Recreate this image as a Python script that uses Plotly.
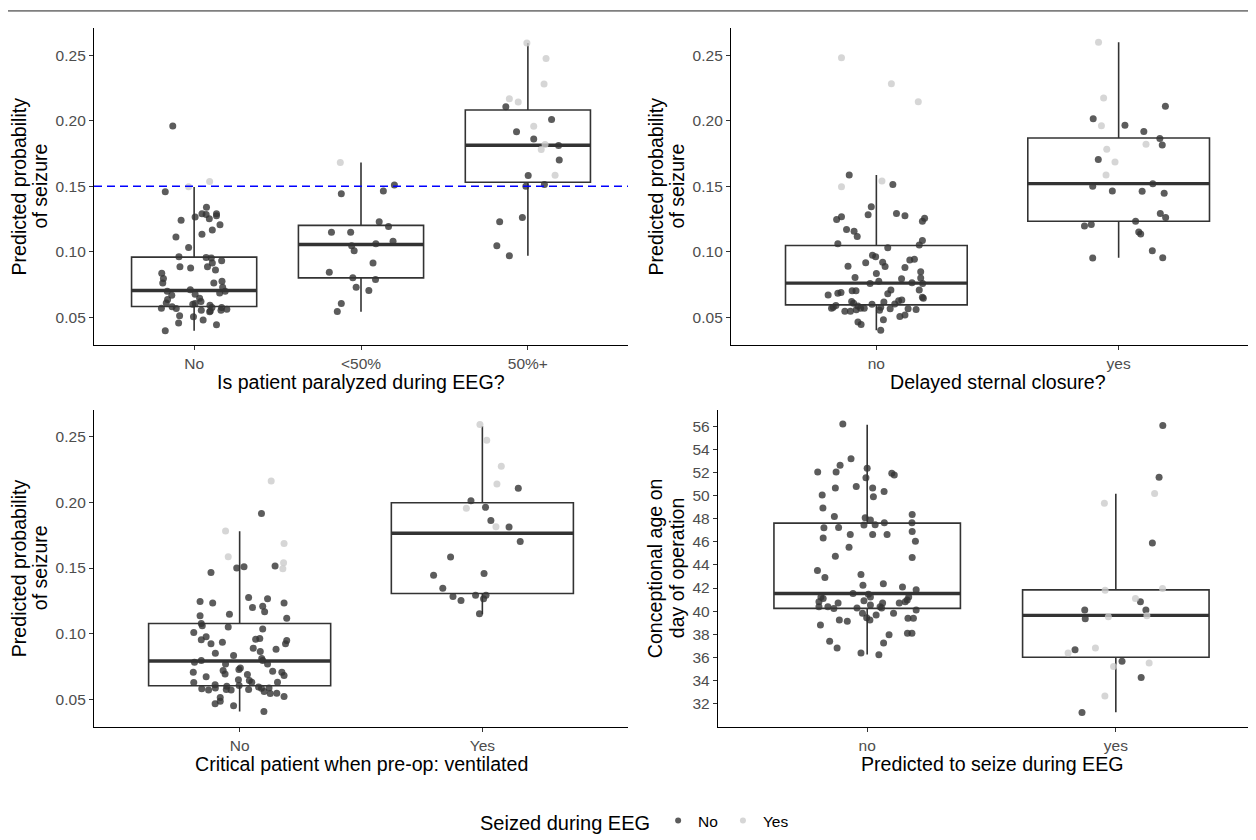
import plotly.graph_objects as go

# The page body adds an 8px margin, so the figure is drawn 8px smaller and
# every reference pixel position is shifted by that offset.
OFF = 8
W, H = 1256 - OFF, 840 - OFF
FONT = "Liberation Sans, Arial, sans-serif"
DARK = "rgba(51,51,51,0.8)"
LIGHT = "rgba(204,204,204,0.8)"
BOX = "#333333"

# ---------------- data ----------------
prob_ticks = [0.05, 0.10, 0.15, 0.20, 0.25]
prob_ticktext = ["0.05", "0.10", "0.15", "0.20", "0.25"]
age_ticks = [32, 34, 36, 38, 40, 42, 44, 46, 48, 50, 52, 54, 56]
age_ticktext = [str(v) for v in age_ticks]
threshold = 0.15

legend_levels = ["No", "Yes"]

# Panel 1: Is patient paralyzed during EEG?
p1_categories = ["No", "<50%", "50%+"]
p1_q1 = [0.0583, 0.0802, 0.1531]
p1_median = [0.0706, 0.1056, 0.1813]
p1_q3 = [0.0960, 0.1202, 0.2082]
p1_lower = [0.0399, 0.0543, 0.0970]
p1_upper = [0.1494, 0.1682, 0.2593]
p1_dark_values = [
    [0.196, 0.1458, 0.134, 0.129, 0.1285, 0.129, 0.1265, 0.1252, 0.1275, 0.1242,
     0.1207, 0.1167, 0.1134, 0.1114, 0.1033, 0.0963, 0.0958, 0.0953, 0.0933, 0.0915,
     0.0887, 0.0877, 0.0887, 0.0862, 0.0837, 0.0797, 0.0762, 0.0762, 0.0777, 0.0731,
     0.0699, 0.0686, 0.0699, 0.0711, 0.0669, 0.0676, 0.0636, 0.0646, 0.0621, 0.0611,
     0.0606, 0.0601, 0.0593, 0.0576, 0.0581, 0.0570, 0.0568, 0.0555, 0.0550, 0.0543,
     0.0555, 0.0563, 0.0576, 0.0513, 0.0505, 0.0480, 0.0457, 0.0445, 0.0399],
    [0.1509, 0.1464, 0.1443, 0.123, 0.1194, 0.1149, 0.1149, 0.1061, 0.1081, 0.1046,
     0.1008, 0.0915, 0.0845, 0.0802, 0.0789, 0.0731, 0.0706, 0.0606, 0.0545],
    [0.2107, 0.2009, 0.1916, 0.1861, 0.1811, 0.1700, 0.1582, 0.1514, 0.1501, 0.1230,
     0.1262, 0.1046, 0.0970],
]
p1_dark_jitter = [
    [-0.128, -0.173, 0.074, 0.047, 0.072, 0.134, 0.006, 0.091, 0.134, -0.078,
     0.155, 0.109, 0.047, -0.109, -0.033, -0.091, 0.072, 0.103, 0.165, 0.109,
     -0.085, -0.021, 0.080, 0.128, -0.194, -0.184, -0.188, 0.118, 0.167, 0.171,
     0.186, 0.153, -0.161, -0.023, -0.134, 0.006, -0.159, 0.033, 0.041, -0.167,
     0.006, -0.008, 0.095, 0.107, -0.132, -0.196, -0.107, 0.043, 0.097, 0.093,
     0.161, 0.196, 0.165, -0.087, -0.004, 0.054, -0.093, 0.134, -0.173],
    [0.200, 0.134, -0.118, 0.109, 0.165, -0.177, -0.062, 0.089, 0.192, -0.056,
     -0.041, 0.072, -0.190, -0.049, 0.087, -0.029, 0.047, -0.118, -0.142],
    [-0.132, 0.142, -0.068, 0.035, 0.184, 0.188, 0.002, 0.099, -0.012, -0.169,
     -0.033, -0.186, -0.111],
]
p1_light_values = [
    [0.1536, 0.1496],
    [0.1682],
    [0.2593, 0.2475, 0.2279, 0.2168, 0.2143, 0.1957, 0.1818, 0.1780, 0.1584],
]
p1_light_jitter = [
    [0.093, -0.033],
    [-0.124],
    [-0.006, 0.109, 0.097, -0.111, -0.058, 0.035, 0.103, 0.080, 0.163],
]

# Panel 2: Delayed sternal closure?
p2_categories = ["no", "yes"]
p2_q1 = [0.0596, 0.1233]
p2_median = [0.0762, 0.1520]
p2_q3 = [0.1049, 0.1868]
p2_lower = [0.0402, 0.0956]
p2_upper = [0.1586, 0.2598]
p2_dark_values = [
    [0.1586, 0.1513, 0.1344, 0.1283, 0.1293, 0.1276, 0.1268, 0.1246, 0.1256, 0.1233,
     0.1170, 0.1157, 0.1117, 0.1062, 0.1087, 0.1052, 0.1031, 0.0974, 0.0963, 0.0938,
     0.0943, 0.0918, 0.0921, 0.0888, 0.0890, 0.0880, 0.0848, 0.0835, 0.0805, 0.0795,
     0.0800, 0.0777, 0.0759, 0.0764, 0.0759, 0.0709, 0.0704, 0.0704, 0.0709, 0.0691,
     0.0684, 0.0671, 0.0681, 0.0654, 0.0646, 0.0628, 0.0633, 0.0621, 0.0608, 0.0618,
     0.0603, 0.0601, 0.0591, 0.0578, 0.0588, 0.0571, 0.0571, 0.0578, 0.0566, 0.0571,
     0.0566, 0.0561, 0.0555, 0.0548, 0.0548, 0.0558, 0.0508, 0.0518, 0.0482, 0.0465,
     0.0447, 0.0402],
    [0.2110, 0.2014, 0.1966, 0.1918, 0.1865, 0.1815, 0.1704, 0.1520, 0.1500, 0.1465,
     0.1462, 0.1447, 0.1293, 0.1263, 0.1233, 0.1208, 0.1198, 0.1152, 0.1137, 0.1009,
     0.0953, 0.0956],
]
p2_dark_jitter = [
    [-0.112, 0.068, -0.021, -0.034, 0.083, 0.118, -0.144, -0.164, 0.199, 0.190,
     -0.123, -0.092, -0.079, -0.159, 0.190, 0.177, 0.047, -0.016, -0.003, 0.138,
     0.157, -0.044, 0.026, 0.036, -0.117, 0.118, 0.183, 0.000, -0.088, 0.104,
     0.183, 0.010, -0.026, 0.147, 0.191, 0.177, -0.100, -0.084, 0.060, -0.146,
     -0.159, -0.199, 0.047, 0.190, 0.194, 0.092, 0.105, -0.102, -0.094, 0.031,
     0.076, -0.018, -0.167, -0.178, -0.076, -0.050, -0.065, 0.018, 0.057, -0.185,
     0.131, 0.164, 0.013, -0.130, -0.107, -0.083, 0.097, 0.118, 0.029, -0.076,
     -0.063, 0.018],
    [0.193, -0.105, 0.026, 0.104, 0.170, 0.180, -0.084, 0.141, -0.107, -0.026,
     0.097, 0.188, 0.172, 0.194, 0.070, -0.113, -0.141, 0.083, 0.091, 0.139,
     -0.107, 0.182],
]
p2_light_values = [
    [0.2480, 0.2281, 0.2145, 0.1497, 0.1540],
    [0.2598, 0.2173, 0.1961, 0.1820, 0.1782, 0.1686, 0.1586],
]
p2_light_jitter = [
    [-0.144, 0.062, 0.173, -0.144, 0.023],
    [-0.083, -0.062, -0.071, 0.113, -0.049, -0.015, -0.052],
]

# Panel 3: Critical patient when pre-op: ventilated
p3_categories = ["No", "Yes"]
p3_q1 = [0.0603, 0.1306]
p3_median = [0.0791, 0.1765]
p3_q3 = [0.1077, 0.1998]
p3_lower = [0.0407, 0.1147]
p3_upper = [0.1780, 0.2583]
p3_dark_values = [
    [0.1915, 0.1466, 0.1501, 0.1509, 0.1516, 0.1245, 0.1233, 0.1275, 0.1265, 0.1233,
     0.1200, 0.1208, 0.1167, 0.1147, 0.1137, 0.1117, 0.1077, 0.1060, 0.1050, 0.1035,
     0.1009, 0.0977, 0.0954, 0.0934, 0.0922, 0.0962, 0.0957, 0.0947, 0.0922, 0.0889,
     0.0881, 0.0851, 0.0864, 0.0834, 0.0811, 0.0796, 0.0781, 0.0768, 0.0796, 0.0768,
     0.0738, 0.0726, 0.0718, 0.0706, 0.0713, 0.0706, 0.0693, 0.0688, 0.0681, 0.0671,
     0.0628, 0.0648, 0.0643, 0.0630, 0.0630, 0.0610, 0.0598, 0.0605, 0.0593, 0.0580,
     0.0585, 0.0575, 0.0583, 0.0585, 0.0570, 0.0575, 0.0570, 0.0558, 0.0543, 0.0545,
     0.0520, 0.0513, 0.0485, 0.0465, 0.0450, 0.0407],
    [0.2109, 0.2013, 0.1963, 0.1863, 0.1812, 0.1702, 0.1584, 0.1446, 0.1459, 0.1346,
     0.1283, 0.1293, 0.1293, 0.1253, 0.1265, 0.1152],
]
p3_dark_jitter = [
    [0.090, -0.118, -0.012, 0.018, 0.146, -0.163, -0.111, 0.037, 0.115, 0.183,
     0.053, 0.095, 0.103, -0.042, -0.163, 0.194, -0.158, -0.154, -0.047, 0.095,
     -0.189, -0.138, -0.158, -0.071, -0.118, 0.083, 0.066, 0.194, 0.189, 0.056,
     0.150, -0.100, 0.085, -0.025, 0.091, -0.158, -0.186, -0.058, 0.095, 0.115,
     0.003, -0.003, -0.068, -0.191, 0.136, 0.174, -0.060, 0.032, 0.183, -0.138,
     -0.189, -0.005, 0.040, 0.050, 0.156, -0.101, -0.053, -0.002, 0.078, -0.156,
     -0.100, 0.037, 0.090, 0.121, -0.128, -0.055, -0.035, 0.101, 0.126, 0.153,
     0.183, -0.080, -0.080, -0.101, -0.025, 0.100],
    [0.148, -0.047, 0.013, 0.035, 0.110, 0.156, -0.131, -0.201, 0.007, -0.163,
     -0.121, -0.028, 0.015, -0.088, 0.005, -0.012],
]
p3_light_values = [
    [0.2164, 0.1782, 0.1687, 0.1587, 0.1541, 0.1494],
    [0.2595, 0.2475, 0.2277, 0.2141, 0.1955, 0.1815],
]
p3_light_jitter = [
    [0.130, -0.058, 0.183, -0.047, 0.181, 0.178],
    [-0.010, 0.018, 0.078, 0.060, -0.066, 0.056],
]

# Panel 4: Predicted to seize during EEG (conceptional age)
p4_categories = ["no", "yes"]
p4_q1 = [40.23, 35.99]
p4_median = [41.52, 39.63]
p4_q3 = [47.63, 41.84]
p4_lower = [36.24, 31.23]
p4_upper = [56.17, 50.18]
p4_dark_values = [
    [56.23, 53.22, 52.65, 52.07, 52.07, 52.39, 51.96, 51.81, 51.56, 50.81,
     50.67, 50.67, 50.38, 50.06, 49.92, 48.94, 48.20, 48.37, 48.09, 47.89,
     47.66, 47.66, 47.46, 47.48, 47.23, 47.25, 46.91, 46.65, 46.65, 46.65,
     46.34, 46.05, 45.53, 44.76, 44.64, 43.53, 42.92, 43.18, 42.38, 42.24,
     42.09, 41.84, 41.52, 41.23, 41.46, 41.23, 41.09, 41.23, 40.95, 40.89,
     40.69, 40.80, 40.69, 40.69, 40.80, 40.52, 40.37, 40.26, 40.37, 40.37,
     40.23, 40.26, 40.09, 39.80, 39.80, 39.66, 39.43, 39.23, 39.37, 39.37,
     39.23, 39.11, 38.80, 37.94, 38.08, 38.08, 37.39, 37.22, 36.79, 36.36,
     36.21],
    [56.09, 51.61, 45.91, 40.80, 40.09, 40.09, 39.34, 36.64, 35.64, 34.24, 31.20],
]
p4_dark_jitter = [
    [-0.098, -0.065, -0.109, -0.199, -0.125, 0.000, 0.099, 0.109, -0.005, -0.044,
     0.022, -0.128, 0.068, -0.181, 0.025, -0.178, -0.132, 0.181, -0.008, 0.013,
     0.180, 0.069, -0.013, 0.032, -0.174, -0.115, 0.181, -0.068, 0.022, 0.080,
     -0.177, 0.194, -0.073, -0.128, 0.181, -0.200, -0.170, -0.025, 0.065, -0.017,
     0.142, 0.197, -0.057, -0.186, 0.005, 0.013, -0.177, 0.167, 0.161, -0.013,
     0.129, 0.153, 0.062, -0.117, -0.194, 0.013, 0.052, 0.058, -0.194, -0.158,
     -0.134, -0.041, 0.197, -0.019, 0.106, 0.036, -0.002, 0.011, 0.164, 0.186,
     -0.112, -0.080, -0.188, 0.088, 0.162, 0.180, -0.151, 0.066, -0.121, -0.025,
     0.047],
    [0.189, 0.174, 0.147, 0.099, 0.121, -0.125, -0.123, -0.164, 0.025, 0.102, -0.136],
]
p4_light_values = [
    [],
    [49.35, 50.20, 41.80, 41.95, 41.10, 39.50, 39.60, 36.36, 36.80, 35.20, 35.50, 32.63],
]
p4_light_jitter = [
    [],
    [-0.046, 0.156, -0.043, 0.188, 0.079, -0.030, 0.125, -0.192, -0.082, -0.009, 0.134, -0.044],
]

# ---------------- figure ----------------
fig = go.Figure()


def px_x(px):
    return (px - OFF) / W


def px_y(py):
    return 1 - (py - OFF) / H


def add_panel(n, cats, q1, med, q3, lo, hi, dark_v, dark_j, light_v, light_j):
    xa = "x" if n == 1 else f"x{n}"
    ya = "y" if n == 1 else f"y{n}"
    pos = list(range(len(cats)))
    fig.add_trace(go.Box(
        x=pos, q1=q1, median=med, q3=q3, lowerfence=lo, upperfence=hi,
        orientation="v", width=0.75, whiskerwidth=0, fillcolor="white",
        line=dict(color=BOX, width=1.6), boxpoints=False,
        hoverinfo="skip", showlegend=False, xaxis=xa, yaxis=ya))
    for p, m in zip(pos, med):
        fig.add_trace(go.Scatter(
            x=[p - 0.375, p + 0.375], y=[m, m], mode="lines",
            line=dict(color=BOX, width=3.4), hoverinfo="skip",
            showlegend=False, xaxis=xa, yaxis=ya))
    for vals, jits, color in ((dark_v, dark_j, DARK), (light_v, light_j, LIGHT)):
        xs, ys = [], []
        for p, vv, jj in zip(pos, vals, jits):
            for v, j in zip(vv, jj):
                xs.append(p + j)
                ys.append(v)
        fig.add_trace(go.Scatter(
            x=xs, y=ys, mode="markers",
            marker=dict(color=color, size=7, line=dict(width=0)),
            hoverinfo="skip", showlegend=False, xaxis=xa, yaxis=ya))


add_panel(1, p1_categories, p1_q1, p1_median, p1_q3, p1_lower, p1_upper,
          p1_dark_values, p1_dark_jitter, p1_light_values, p1_light_jitter)
add_panel(2, p2_categories, p2_q1, p2_median, p2_q3, p2_lower, p2_upper,
          p2_dark_values, p2_dark_jitter, p2_light_values, p2_light_jitter)
add_panel(3, p3_categories, p3_q1, p3_median, p3_q3, p3_lower, p3_upper,
          p3_dark_values, p3_dark_jitter, p3_light_values, p3_light_jitter)
add_panel(4, p4_categories, p4_q1, p4_median, p4_q3, p4_lower, p4_upper,
          p4_dark_values, p4_dark_jitter, p4_light_values, p4_light_jitter)

# legend entries
for name, color in zip(legend_levels, [DARK, LIGHT]):
    fig.add_trace(go.Scatter(
        x=[None], y=[None], mode="markers", name=name,
        marker=dict(color=color, size=6, line=dict(width=0)),
        showlegend=True, xaxis="x", yaxis="y"))

# the right-hand panels run past the right edge of the picture (cropped)
panels = [
    # n, x px (left, right, full right), y px (top, bottom), categories, yrange,
    # ticks, ticktext, x title, y title lines, y title line x px
    (1, (94, 628, 628), (28, 348), p1_categories, [0.0289, 0.2708], prob_ticks, prob_ticktext,
     "Is patient paralyzed during EEG?", ["Predicted probability", "of seizure"], (19, 40)),
    (2, (731, 1256, 1264), (28, 348), p2_categories, [0.0289, 0.2708], prob_ticks, prob_ticktext,
     "Delayed sternal closure?", ["Predicted probability", "of seizure"], (656, 677)),
    (3, (94, 628, 628), (413, 733), p3_categories, [0.0289, 0.2708], prob_ticks, prob_ticktext,
     "Critical patient when pre-op: ventilated", ["Predicted probability", "of seizure"], (19, 40)),
    (4, (718, 1256, 1265), (413, 733), p4_categories, [29.95, 57.48], age_ticks, age_ticktext,
     "Predicted to seize during EEG", ["Conceptional age on", "day of operation"], (655, 677)),
]

layout = {}
annotations = []
for n, (x0, x1, xfull), (y0, y1), cats, yr, tv, tt, xt, ylines, ylx in panels:
    sx = "" if n == 1 else str(n)
    common = dict(showline=True, linecolor="black", linewidth=1.3, ticks="outside",
                  ticklen=4, tickwidth=1.2, tickcolor="#333333", showgrid=False,
                  zeroline=False, tickfont=dict(family=FONT, size=15.5, color="#4D4D4D"))
    span = len(cats) - 1 + 1.2
    x_hi = -0.6 + span * (x1 - x0) / (xfull - x0)
    layout["xaxis" + sx] = dict(
        domain=[px_x(x0), px_x(x1)], anchor="y" + sx,
        range=[-0.6, x_hi], tickmode="array",
        tickvals=list(range(len(cats))), ticktext=cats, **common)
    layout["yaxis" + sx] = dict(
        domain=[px_y(y1), px_y(y0)], anchor="x" + sx, range=yr,
        tickmode="array", tickvals=tv, ticktext=tt, **common)
    annotations.append(dict(
        text=xt, xref="paper", yref="paper", x=px_x((x0 + xfull) / 2), y=px_y(y1 + 37),
        xanchor="center", yanchor="middle", showarrow=False,
        font=dict(family=FONT, size=19.6, color="black")))
    for line, lx in zip(ylines, ylx):
        annotations.append(dict(
            text=line, xref="paper", yref="paper", x=px_x(lx), y=px_y((y0 + y1) / 2),
            xanchor="center", yanchor="middle", textangle=-90, showarrow=False,
            font=dict(family=FONT, size=19.6, color="black")))

fig.update_layout(**layout)

fig.add_shape(type="line", xref="x domain", yref="y", x0=0, x1=1,
              y0=threshold, y1=threshold, layer="above",
              line=dict(color="#0000FF", width=1.4, dash="8px,5px"))

# thin frame line at the top of the image
fig.add_shape(type="line", xref="paper", yref="paper", layer="above",
              x0=0, x1=1, y0=px_y(11), y1=px_y(11),
              line=dict(color="#7F7F7F", width=1.8))

fig.update_layout(
    width=W, height=H, autosize=False,
    margin=dict(l=0, r=0, t=0, b=0),
    paper_bgcolor="white", plot_bgcolor="white",
    font=dict(family=FONT, color="black"),
    annotations=annotations,
    showlegend=True,
    legend=dict(
        orientation="h", x=px_x(636), xanchor="center", y=px_y(829), yanchor="middle",
        title=dict(text="Seized during EEG", side="left",
                   font=dict(family=FONT, size=20, color="black")),
        font=dict(family=FONT, size=15.5, color="black"),
        itemwidth=30, bgcolor="rgba(0,0,0,0)"),
)

fig.write_html("out.html")
